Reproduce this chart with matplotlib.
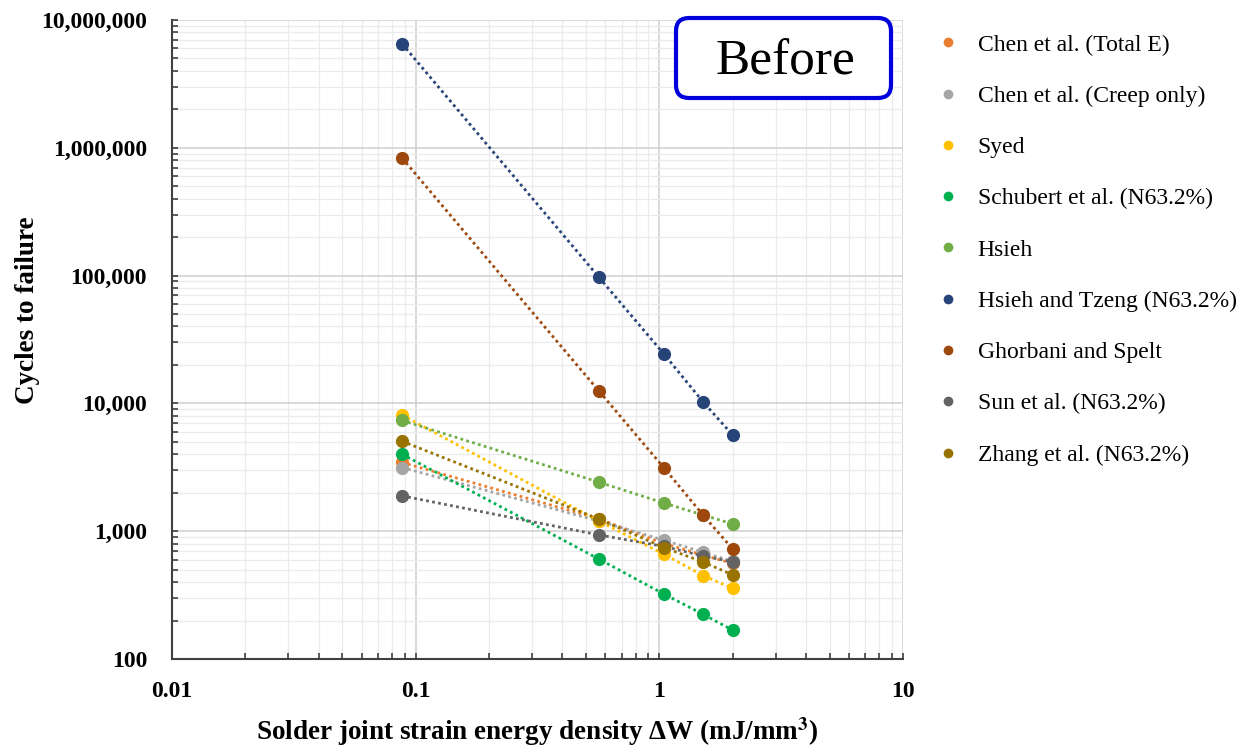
"""Cycles to failure vs. solder joint strain energy density for several fatigue models."""

import matplotlib
matplotlib.use("Agg")
import matplotlib.pyplot as plt
from matplotlib.lines import Line2D
from matplotlib.patches import FancyBboxPatch
from matplotlib.ticker import FuncFormatter, LogLocator, NullFormatter

# strain energy density levels (mJ/mm^3)
delta_w = [0.088, 0.565, 1.045, 1.51, 2.0]

chen_total = [3450, 1250, 800, 650, 560]
chen_creep = [3150, 1200, 850, 685, 580]
syed = [8100, 1200, 660, 450, 357]
schubert = [4000, 605, 322, 224, 168]
hsieh = [7350, 2420, 1660, 1340, 1140]
hsieh_tzeng = [6_500_000, 97_000, 24_300, 10_300, 5_650]
ghorbani = [830_000, 12_500, 3_130, 1_340, 725]
sun = [1890, 935, 760, 640, 575]
zhang = [5050, 1245, 745, 575, 455]

labels = [
    "Chen et al. (Total E)",
    "Chen et al. (Creep only)",
    "Syed",
    "Schubert et al. (N63.2%)",
    "Hsieh",
    "Hsieh and Tzeng (N63.2%)",
    "Ghorbani and Spelt",
    "Sun et al. (N63.2%)",
    "Zhang et al. (N63.2%)",
]
series = [chen_total, chen_creep, syed, schubert, hsieh,
          hsieh_tzeng, ghorbani, sun, zhang]
colors = ["#ED7D31", "#A5A5A5", "#FFC000", "#00B050", "#70AD47",
          "#264478", "#9E480E", "#636363", "#997300"]

plt.rcParams["font.family"] = ["Liberation Serif", "DejaVu Serif"]
plt.rcParams["mathtext.fontset"] = "stix"

fig = plt.figure(figsize=(12.5, 7.51), dpi=100)
ax = fig.add_axes([0.1376, 0.1225, 0.5848, 0.8509])

for ys, c in zip(series, colors):
    ax.plot(delta_w, ys, linestyle=(0, (1, 1.2)), linewidth=2.0, color=c,
            marker="o", markersize=9.5, markeredgewidth=0, zorder=3)

ax.set_xscale("log")
ax.set_yscale("log")
ax.set_xlim(0.01, 10)
ax.set_ylim(100, 10_000_000)

ax.xaxis.set_major_locator(LogLocator(base=10))
ax.xaxis.set_minor_locator(LogLocator(base=10, subs=range(2, 10)))
ax.yaxis.set_major_locator(LogLocator(base=10))
ax.yaxis.set_minor_locator(LogLocator(base=10, subs=range(2, 10)))
ax.xaxis.set_major_formatter(FuncFormatter(lambda v, _: f"{v:g}"))
ax.yaxis.set_major_formatter(FuncFormatter(lambda v, _: f"{v:,.0f}"))
ax.xaxis.set_minor_formatter(NullFormatter())
ax.yaxis.set_minor_formatter(NullFormatter())

ax.grid(which="major", color="#CFCFCF", linewidth=1.1, zorder=0)
ax.grid(which="minor", color="#EBEBEB", linewidth=0.9, zorder=0)
ax.set_axisbelow(True)

for side in ("top", "right"):
    ax.spines[side].set_visible(False)
for side in ("left", "bottom"):
    ax.spines[side].set_color("#404040")
    ax.spines[side].set_linewidth(1.5)

ax.tick_params(which="both", direction="in", length=4, width=1.2,
               color="#404040", labelsize=17)
ax.tick_params(axis="x", which="both", pad=16)
ax.tick_params(axis="y", which="both", pad=18)
for lbl in ax.get_xticklabels() + ax.get_yticklabels():
    lbl.set_fontweight("bold")

ax.set_xlabel("Solder joint strain energy density ΔW (mJ/mm$^\\mathbf{3}$)",
              fontsize=19.5, fontweight="bold")
ax.xaxis.set_label_coords(0.5, -0.088)
ax.set_ylabel("Cycles to failure", fontsize=19.5, fontweight="bold")
ax.yaxis.set_label_coords(-0.181, 0.546)

handles = [Line2D([], [], linestyle="none", marker="o", markersize=7,
                  markeredgewidth=0, color=c) for c in colors]
fig.legend(handles, labels, loc="upper left",
           bbox_to_anchor=(0.7318, 0.983), frameon=False, fontsize=17,
           labelspacing=1.26, handlelength=1.0, handletextpad=0.77)

# "Before" tag in the upper right corner of the plot (inch coordinates)
box = FancyBboxPatch((6.76, 6.53), 2.15, 0.80,
                     boxstyle="round,pad=0,rounding_size=0.13",
                     transform=fig.dpi_scale_trans, facecolor="white",
                     edgecolor="#0000DD", linewidth=3, zorder=5)
fig.patches.append(box)
fig.text(7.85, 6.89, "Before", fontsize=37, ha="center", va="center",
         transform=fig.dpi_scale_trans, zorder=6)

fig.savefig("out.png", dpi=100)
